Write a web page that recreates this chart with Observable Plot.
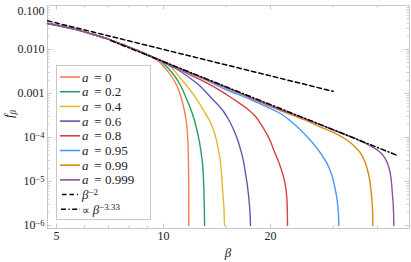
<!DOCTYPE html>
<html><head><meta charset="utf-8">
<script src="https://cdn.jsdelivr.net/npm/d3@7"></script>
<script src="https://cdn.jsdelivr.net/npm/@observablehq/plot@0.6"></script>
<style>
html,body{margin:0;padding:0;background:#fff;}
#chart svg{display:block;}
</style>
</head><body><div id="chart"></div>
<script>
// ---- data ----
const aLabels = ["0", "0.2", "0.4", "0.6", "0.8", "0.95", "0.99", "0.999"];

// shared low-beta part of all curves
const envBeta = [4.72, 5.58, 6.23, 6.96, 7.72, 8.62, 9.19];
const envF    = [0.0390, 0.0294, 0.0229, 0.0174, 0.01265, 0.00887, 0.00708];

const beta_a0 = [9.62, 10.13, 10.67, 11.02, 11.38, 11.53, 11.67, 11.74, 11.77, 11.78];
const f_a0    = [0.00562, 0.00370, 0.00208, 0.00123, 0.000507, 0.000300, 0.000130, 0.0000456, 0.0000105, 0.000001];

const beta_a02 = [9.81, 10.26, 10.67, 11.17, 11.53, 11.91, 12.22, 12.46, 12.63, 12.79, 12.92, 12.99, 13.03, 13.05];
const f_a02    = [0.00548, 0.00390, 0.00270, 0.00152, 0.000855, 0.000456, 0.000243, 0.000130, 0.0000769, 0.0000390, 0.0000178, 0.00000624, 0.00000219, 0.000001];

const beta_a04 = [10.00, 10.46, 11.17, 11.91, 12.46, 12.96, 13.47, 13.74, 14.10, 14.28, 14.47, 14.58, 14.70, 14.80, 14.85];
const f_a04    = [0.00520, 0.00411, 0.00219, 0.00117, 0.000694, 0.000411, 0.000243, 0.000169, 0.0000855, 0.0000507, 0.0000270, 0.0000123, 0.00000481, 0.00000219, 0.000001];

const beta_a06 = [10.13, 10.81, 11.91, 12.71, 13.56, 14.75, 15.24, 15.74, 16.15, 16.47, 16.79, 17.01, 17.23, 17.40, 17.51, 17.57];
const f_a06    = [0.00481, 0.00370, 0.00219, 0.00144, 0.000832, 0.000390, 0.000257, 0.000152, 0.0000901, 0.0000534, 0.0000285, 0.0000152, 0.0000077, 0.0000037, 0.00000197, 0.000001];

const beta_a08 = [10.46, 11.17, 11.91, 13.30, 14.75, 15.94, 17.23, 18.15, 18.75, 19.49, 20.00, 20.39, 21.06, 21.62, 22.04, 22.23, 22.30, 22.33];
const f_a08    = [0.00456, 0.00342, 0.00263, 0.00169, 0.00105, 0.000694, 0.000444, 0.000300, 0.000208, 0.000123, 0.0000811, 0.0000534, 0.0000285, 0.0000152, 0.0000077, 0.00000411, 0.00000219, 0.000001];

const beta_a095 = [11.91, 12.71, 14.75, 17.57, 20.00, 21.34, 22.77, 24.29, 25.92, 27.12, 28.19, 29.12, 29.89, 30.47, 30.87, 31.07, 31.13];
const f_a095    = [0.00285, 0.00231, 0.00130, 0.000731, 0.000456, 0.000351, 0.000237, 0.000148, 0.0000855, 0.0000548, 0.0000351, 0.0000219, 0.0000123, 0.00000624, 0.00000316, 0.00000169, 0.000001];

const beta_a099 = [17.57, 21.34, 24.77, 27.65, 30.87, 32.93, 34.69, 36.30, 37.25, 37.98, 38.47, 38.73, 38.80];
const f_a099    = [0.000791, 0.000411, 0.000257, 0.000173, 0.000117, 0.0000855, 0.0000593, 0.0000370, 0.0000219, 0.0000111, 0.00000481, 0.00000219, 0.000001];

const beta_a0999 = [10.00, 11.91, 14.75, 17.57, 21.34, 24.77, 30.87, 35.14, 38.23, 40.26, 41.86, 42.96, 43.66, 44.08, 44.37, 44.46];
const f_a0999    = [0.00522, 0.00294, 0.00146, 0.000820, 0.000433, 0.000277, 0.000137, 0.0000901, 0.0000641, 0.0000493, 0.0000351, 0.0000219, 0.0000117, 0.00000481, 0.00000197, 0.000001];

// reference power laws
const refBeta2 = [4.72, 30.0];
const refF2    = [0.0449, 0.00112];
const refBeta333 = [7.10, 45.5];
const refF333    = [0.0160, 0.0000390];

// ticks
const xTicks = [5, 10, 20];
const xTickLabels = ["5", "10", "20"];
const xMinorTicks = [6, 7, 8, 9, 15, 30, 40];
const yTicks = [0.1, 0.01, 0.001, 1e-4, 1e-5, 1e-6];
const yTickLabels = ["0.100", "0.010", "0.001", "10^-4", "10^-5", "10^-6"];
const yMinorTicks = [];
for (const d of [1e-6, 1e-5, 1e-4, 1e-3, 1e-2]) for (let k = 2; k <= 9; k++) yMinorTicks.push(+(k * d).toPrecision(3));

// ---- styling ----
const colors = ["#FA7A55", "#2A9D63", "#E8B82C", "#5A5AB4", "#D9403F", "#4B97FF", "#D48A0A", "#8D4FA6"];
const frameColor = "#c8c8c8";
const serif = "'Liberation Serif','Times New Roman',serif";
const W = 411, H = 262, mL = 47, mR = 2, mT = 5, mB = 34;
const innerW = W - mL - mR, innerH = H - mT - mB;

const tails = [[beta_a0, f_a0], [beta_a02, f_a02], [beta_a04, f_a04], [beta_a06, f_a06],
               [beta_a08, f_a08], [beta_a095, f_a095], [beta_a099, f_a099], [beta_a0999, f_a0999]];
const rows = [];
aLabels.forEach((a, i) => {
  envBeta.forEach((b, j) => rows.push({a, beta: b, f: envF[j]}));
  tails[i][0].forEach((b, j) => rows.push({a, beta: b, f: tails[i][1][j]}));
});
const ref2 = refBeta2.map((b, i) => ({beta: b, f: refF2[i]}));
const ref333 = refBeta333.map((b, i) => ({beta: b, f: refF333[i]}));

const MJ = 4.5, MN = 2.5;
const plot = Plot.plot({
  width: W, height: H, marginLeft: mL, marginRight: mR, marginTop: mT, marginBottom: mB,
  style: {fontFamily: serif, fontSize: "12px", color: "#222", background: "white"},
  x: {type: "log", domain: [4.717, 49.2]},
  y: {type: "log", domain: [8.55e-7, 0.1]},
  color: {domain: aLabels, range: colors},
  marks: [
    Plot.ruleX(xTicks, {stroke: frameColor, insetTop: innerH - MJ}),
    Plot.ruleX(xTicks, {stroke: frameColor, insetBottom: innerH - MJ}),
    Plot.ruleX(xMinorTicks, {stroke: frameColor, insetTop: innerH - MN}),
    Plot.ruleX(xMinorTicks, {stroke: frameColor, insetBottom: innerH - MN}),
    Plot.ruleY(yTicks, {stroke: frameColor, insetRight: innerW - MJ}),
    Plot.ruleY(yTicks, {stroke: frameColor, insetLeft: innerW - MJ}),
    Plot.ruleY(yMinorTicks, {stroke: frameColor, insetRight: innerW - MN}),
    Plot.ruleY(yMinorTicks, {stroke: frameColor, insetLeft: innerW - MN}),
    Plot.frame({stroke: frameColor}),
    Plot.axisX({ticks: xTicks, tickFormat: d => xTickLabels[xTicks.indexOf(d)], tickSize: 0, tickPadding: 3, label: null, fontSize: 12}),
    Plot.axisY({ticks: yTicks, tickFormat: d => yTickLabels[yTicks.indexOf(d)], tickSize: 0, tickPadding: 3, label: null, fontSize: 12}),
    Plot.line(rows, {x: "beta", y: "f", z: "a", stroke: "a", curve: "monotone-x", strokeWidth: 1.4}),
    Plot.line(ref2, {x: "beta", y: "f", stroke: "black", strokeWidth: 1.5, strokeDasharray: "4.5,3"}),
    Plot.line(ref333, {x: "beta", y: "f", stroke: "black", strokeWidth: 1.5, strokeDasharray: "5,2.5,1.2,2.5"})
  ]
});
document.getElementById("chart").appendChild(plot);

// superscripts on y tick labels; keep the top label inside the picture
d3.select(plot).selectAll("g[aria-label='y-axis tick label'] text").each(function() {
  const t = this.textContent;
  const el = d3.select(this);
  if (t === "0.100") el.attr("dy", "0.45em");
  const m = t.match(/^10\^(.+)$/);
  if (m) {
    el.text("10");
    el.append("tspan").attr("dy", "-0.45em").attr("font-size", "8.5px").text(m[1].replace("-", "\u2212"));
  }
});

const svg = d3.select(plot);
// axis titles
const fl = svg.append("text").attr("transform", "translate(13,114) rotate(-90)")
  .attr("text-anchor", "middle").attr("font-family", serif).attr("font-size", 13).attr("fill", "#222");
fl.append("tspan").attr("font-style", "italic").text("f");
fl.append("tspan").attr("font-style", "italic").attr("font-size", 9).attr("dy", "0.3em").text("\u03b2");
svg.append("text").attr("x", 228).attr("y", 257).attr("text-anchor", "middle")
  .attr("font-family", serif).attr("font-style", "italic").attr("font-size", 13).attr("fill", "#222").text("\u03b2");

// legend
const lg = svg.append("g").attr("font-family", serif).attr("font-size", 13).attr("fill", "#222").attr("text-anchor", "start");
lg.append("rect").attr("x", 56.5).attr("y", 65.5).attr("width", 94).attr("height", 154)
  .attr("fill", "white").attr("stroke", frameColor);
const step = 14.7, y0 = 77;
aLabels.forEach((a, i) => {
  const y = y0 + i * step;
  lg.append("line").attr("x1", 60).attr("x2", 80).attr("y1", y).attr("y2", y).attr("stroke", colors[i]).attr("stroke-width", 1.6);
  const t = lg.append("text").attr("x", 82).attr("y", y + 4.5);
  t.append("tspan").attr("font-style", "italic").text("a");
  t.append("tspan").text("\u2009 = " + a);
});
let yb = y0 + 8 * step;
lg.append("line").attr("x1", 62).attr("x2", 78).attr("y1", yb).attr("y2", yb).attr("stroke", "black").attr("stroke-width", 1.5).attr("stroke-dasharray", "4.5,3");
let tb = lg.append("text").attr("x", 82).attr("y", yb + 4.5);
tb.append("tspan").attr("font-style", "italic").text("\u03b2");
tb.append("tspan").attr("dy", "-0.45em").attr("font-size", 9).text("\u22122");
yb = y0 + 9 * step;
lg.append("line").attr("x1", 61).attr("x2", 80).attr("y1", yb).attr("y2", yb).attr("stroke", "black").attr("stroke-width", 1.5).attr("stroke-dasharray", "5,2.5,1.2,2.5");
tb = lg.append("text").attr("x", 82).attr("y", yb + 4.5);
tb.append("tspan").attr("font-size", 11).text("\u221d ");
tb.append("tspan").attr("font-style", "italic").text("\u03b2");
tb.append("tspan").attr("dy", "-0.45em").attr("font-size", 9).text("\u22123.33");
</script></body></html>
